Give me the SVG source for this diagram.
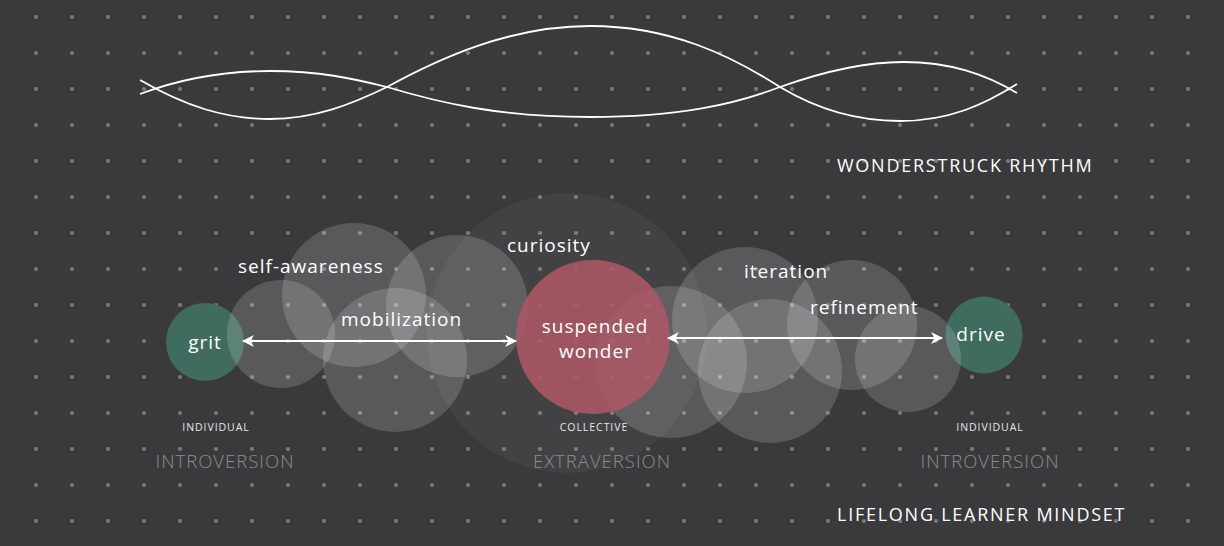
<svg xmlns="http://www.w3.org/2000/svg" width="1224" height="546" viewBox="0 0 1224 546">
<defs>
<pattern id="dots" x="18" y="0" width="36" height="36" patternUnits="userSpaceOnUse">
<circle cx="18" cy="17" r="2.1" fill="#79797a"/>
</pattern>
<marker id="ah" viewBox="0 0 12 12" refX="11" refY="6" markerWidth="12" markerHeight="12" markerUnits="userSpaceOnUse" orient="auto-start-reverse">
<path d="M0,0 L12,6 L0,12 L3.5,6 Z" fill="#ffffff"/>
</marker>
<style>
.bg{fill:#3a3a3c}
.gc{fill:#ffffff;fill-opacity:0.16}
.faint{fill:#ffffff;fill-opacity:0.045}
.teal{fill:#406b5f}
.red{fill:#ad5865;fill-opacity:0.86}
.lbl{font-family:"Open Sans","Liberation Sans",sans-serif;font-size:19px;fill:#ffffff;letter-spacing:1px}
.cap{font-family:"Open Sans","Liberation Sans",sans-serif;font-size:18px;fill:#ffffff;letter-spacing:1.75px}
.small{font-family:"Open Sans","Liberation Sans",sans-serif;font-size:10.5px;fill:#e6e6e6;letter-spacing:0.95px}
.axis{font-family:"Open Sans","Liberation Sans",sans-serif;font-size:18.5px;font-weight:300;fill:#8d8d8f;letter-spacing:1px}
.wave{fill:none;stroke:#ffffff;stroke-width:1.8}
.conn{stroke:#ffffff;stroke-width:2;fill:none}
</style>
</defs>
<rect class="bg" x="0" y="0" width="1224" height="546"/>
<rect x="18" y="0" width="1188" height="540" fill="url(#dots)"/>

<g id="wave">
<path class="wave" d="M140,80 C185,106 225,119 270,119 C315,119 352,104 387,87 C440,58 510,26 590,26 C670,26 730,55 780,87 C815,108 855,121 900,121 C950,121 985,104 1017,84"/>
<path class="wave" d="M140,94 C180,79 225,71 270,71 C320,71 355,79 387,87 C440,103 500,117 590,117 C680,117 735,104 780,87 C825,71 865,62 903,62 C950,62 985,74 1017,93"/>
</g>

<g id="background-circle"><circle class="faint" cx="567" cy="333" r="140"/></g>

<g id="node-grit">
<circle class="teal" cx="205" cy="342" r="39"/>
</g>
<g id="node-drive">
<circle class="teal" cx="984" cy="335" r="38.5"/>
</g>

<g id="bubble-self-awareness"><circle class="gc" cx="354" cy="295" r="72"/></g>
<g id="bubble-a"><circle class="gc" cx="281" cy="334" r="54"/></g>
<g id="bubble-c"><circle class="gc" cx="457" cy="306" r="71"/></g>
<g id="bubble-mobilization"><circle class="gc" cx="395" cy="360" r="72"/></g>
<g id="bubble-iteration"><circle class="gc" cx="745" cy="320" r="73"/></g>
<g id="bubble-e"><circle class="gc" cx="671" cy="362" r="76"/></g>
<g id="bubble-f"><circle class="gc" cx="770" cy="371" r="72"/></g>
<g id="bubble-refinement"><circle class="gc" cx="852" cy="325" r="65"/></g>
<g id="bubble-g"><circle class="gc" cx="908" cy="359" r="53"/></g>

<g id="node-suspended-wonder">
<circle class="red" cx="593" cy="337" r="77"/>
<text class="lbl" x="595" y="333" text-anchor="middle">suspended</text>
<text class="lbl" x="596" y="358" text-anchor="middle">wonder</text>
</g>

<g id="connectors">
<line class="conn" x1="243" y1="341" x2="516" y2="341" marker-start="url(#ah)" marker-end="url(#ah)"/>
<line class="conn" x1="668" y1="338" x2="942" y2="338" marker-start="url(#ah)" marker-end="url(#ah)"/>
</g>

<g id="labels">
<text class="lbl" x="205" y="349" text-anchor="middle">grit</text>
<text class="lbl" x="981" y="341" text-anchor="middle">drive</text>
<text class="lbl" x="238" y="273">self-awareness</text>
<text class="lbl" x="341" y="326">mobilization</text>
<text class="lbl" x="507" y="252">curiosity</text>
<text class="lbl" x="744" y="278">iteration</text>
<text class="lbl" x="810" y="314">refinement</text>

<text class="small" x="216" y="431" text-anchor="middle">INDIVIDUAL</text>
<text class="small" x="594" y="431" text-anchor="middle">COLLECTIVE</text>
<text class="small" x="990" y="431" text-anchor="middle">INDIVIDUAL</text>
<text class="axis" x="225" y="468" text-anchor="middle">INTROVERSION</text>
<text class="axis" x="602" y="468" text-anchor="middle">EXTRAVERSION</text>
<text class="axis" x="990" y="468" text-anchor="middle">INTROVERSION</text>

<text class="cap" x="837" y="172">WONDERSTRUCK RHYTHM</text>
<text class="cap" x="837" y="521">LIFELONG LEARNER MINDSET</text>
</g>
</svg>
